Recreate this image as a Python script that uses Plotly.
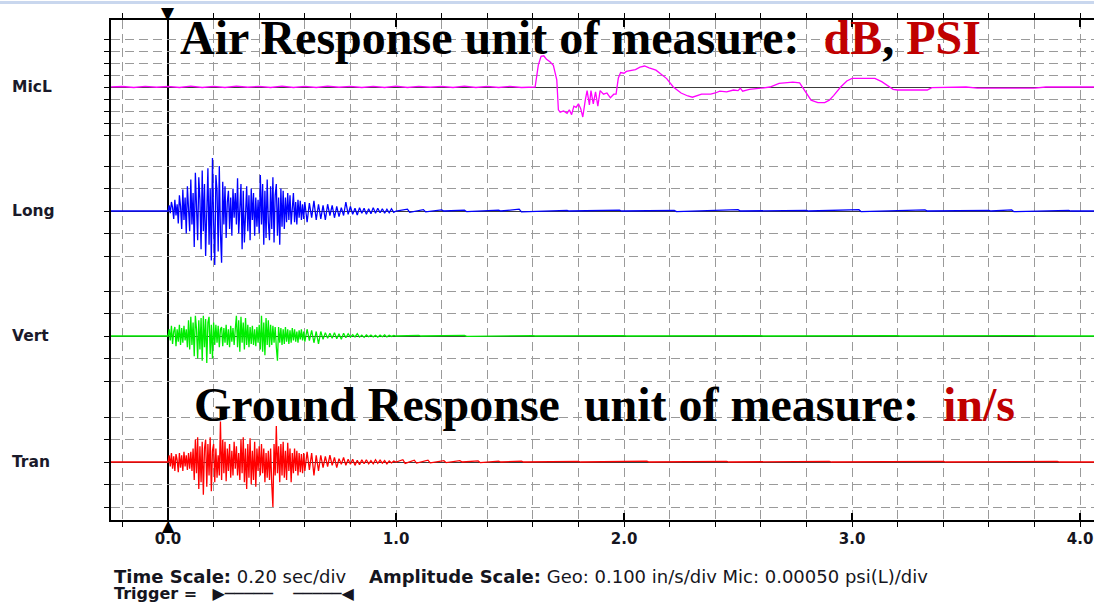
import plotly.graph_objects as go

# ---------------- data ----------------
time_tick_vals = [0, 1, 2, 3, 4]
time_tick_text = ["0.0", "1.0", "2.0", "3.0", "4.0"]
channel_names = ["MicL", "Long", "Vert", "Tran"]
channel_colors = ["#ff00ff", "#0000ff", "#00ee00", "#ff0000"]

geo_div = 0.100      # in/s per division
mic_div = 0.00050    # psi per division

# Mic (psi) -- time (s) and value
mic_t = [-0.26, -0.2, -0.15, -0.1, -0.05, 0.0, 0.05, 0.1, 0.15, 0.2, 0.25, 0.3, 0.35, 0.4,
         0.45, 0.5, 0.55, 0.6, 0.65, 0.7, 0.75, 0.8, 0.85, 0.9, 0.95, 1.0, 1.05, 1.1, 1.15,
         1.2, 1.25, 1.3, 1.35, 1.4, 1.45, 1.5, 1.55, 1.6,
         1.61, 1.624, 1.636, 1.648, 1.66, 1.675, 1.69, 1.705, 1.712, 1.72, 1.735, 1.75, 1.76,
         1.77, 1.78, 1.79, 1.80, 1.81, 1.819, 1.83, 1.838, 1.848, 1.855, 1.865, 1.875, 1.885,
         1.895, 1.91, 1.925, 1.94, 1.955, 1.965, 1.975, 1.985, 2.0, 2.01, 2.03, 2.05, 2.07,
         2.09, 2.11, 2.14, 2.16, 2.187, 2.216, 2.25, 2.28, 2.30, 2.34, 2.38, 2.40, 2.42, 2.45,
         2.48, 2.50, 2.51, 2.52, 2.55, 2.60, 2.64, 2.68, 2.72, 2.74, 2.77, 2.80, 2.82, 2.85,
         2.88, 2.90, 2.92, 2.95, 2.977, 3.0, 3.1, 3.13, 3.16, 3.18, 3.2, 3.33, 3.35, 3.5, 3.55,
         3.6, 3.8, 3.85, 4.07]
mic_psi = [0.0, 0.00002, -0.00002, 0.00003, -0.00001, 0.00003, -0.00002, 0.00004, -0.00002,
           0.00003, -0.00002, 0.00004, -0.00001, 0.00003, -0.00002, 0.00004, -0.00002, 0.00003,
           -0.00002, 0.00004, -0.00001, 0.00003, -0.00002, 0.00003, -0.00002, 0.00004, -0.00002,
           0.00003, -0.00001, 0.00003, -0.00002, 0.00004, -0.00002, 0.00003, -0.00002, 0.00003,
           -0.00002, 0.0,
           0.0, 0.000915, 0.001275, 0.0013, 0.00115, 0.00105, 0.0009, 0.0003, -0.00095, -0.00105,
           -0.001, -0.0011, -0.00095, -0.00115, -0.0008, -0.00085, -0.0007, -0.0009, -0.00125,
           -0.00055, -0.00015, -0.00075, -0.00015, -0.0007, -0.0002, -0.0008, -0.00015, -0.0003,
           -0.00025, -0.00045, -0.0003, -0.0003, 0.000375, 0.0006, 0.000575, 0.00065, 0.0007,
           0.000725, 0.000825, 0.000875, 0.0008, 0.0007, 0.00055, 0.00035, 0.0, -0.00025,
           -0.000375, -0.000425, -0.0003, -0.0003, -0.00025, -0.000175, -0.0002, -0.000125,
           -0.00015, -0.00005, -0.000175, -0.0001, -0.00005, 0.0, 0.00015, 0.000175, 0.0002,
           0.000175, -0.000275, -0.00055, -0.00065, -0.00065, -0.00055, -0.00035, 0.0, 0.00025,
           0.00036, 0.00036, 0.000225, 0.00005, -0.0001, -0.000125, -0.000125, -0.000025, 0.0,
           -0.00005, -0.00005, -0.00005, 0.0, 0.0]

# Geophone bursts (in/s): segment A sampled every 0.005 s from the trigger (0.000-0.595 s),
# segment B sampled every 0.01 s (0.60-0.99 s)
dt_a = 0.005
dt_b = 0.01
long_a = [0.000, 0.025, -0.010, 0.040, 0.015, -0.035, 0.050, -0.020, 0.030, -0.055,
          0.070, 0.020, -0.080, 0.095, -0.040, 0.060, -0.100, 0.110, 0.030, -0.090,
          0.140, -0.060, 0.080, -0.160, 0.170, -0.020, -0.130, 0.150, 0.050, -0.170,
          0.180, -0.090, 0.120, -0.200, 0.060, 0.190, -0.150, 0.100, -0.220, 0.235,
          -0.050, -0.240, 0.160, 0.090, -0.180, 0.200, -0.100, -0.230, 0.130, -0.060,
          0.110, -0.120, 0.040, 0.090, -0.080, 0.060, -0.110, 0.100, -0.030, 0.080,
          -0.060, 0.145, -0.100, 0.050, 0.120, -0.170, 0.090, -0.140, 0.030, 0.110,
          -0.090, 0.070, -0.130, 0.100, -0.040, 0.080, -0.110, 0.060, -0.070, 0.050,
          -0.100, 0.160, -0.060, 0.120, -0.150, 0.090, -0.120, 0.140, -0.050, -0.130,
          0.110, -0.080, 0.150, -0.140, 0.070, 0.120, -0.110, 0.060, -0.150, 0.100,
          -0.070, 0.090, -0.080, 0.060, -0.050, 0.080, -0.040, 0.070, -0.060, 0.030,
          0.080, -0.050, 0.040, -0.060, 0.050, -0.030, 0.045, -0.040, 0.030, -0.035]
long_b = [0.040, -0.050, 0.035, -0.030, 0.045, -0.040, 0.030, -0.035, 0.025, -0.040,
          0.030, -0.020, 0.025, -0.030, 0.020, -0.025, 0.015, -0.020, 0.040, -0.015,
          0.020, -0.015, 0.012, -0.018, 0.015, -0.010, 0.012, -0.015, 0.010, -0.012,
          0.015, -0.010, 0.012, -0.008, 0.010, -0.010, 0.008, -0.008, 0.010, -0.006]
vert_a = [0.000, 0.030, -0.020, 0.045, -0.035, 0.020, 0.040, -0.045, 0.030, -0.025,
          0.050, -0.040, 0.035, -0.030, 0.045, -0.020, 0.030, -0.050, 0.070, -0.060,
          0.085, -0.040, 0.060, -0.090, 0.090, 0.030, -0.100, 0.070, -0.060, 0.080,
          -0.110, 0.090, -0.050, 0.075, -0.120, 0.060, 0.085, -0.080, 0.050, -0.100,
          0.060, -0.040, 0.050, -0.030, 0.045, -0.050, 0.030, 0.040, -0.045, 0.035,
          -0.030, 0.050, -0.040, 0.030, -0.050, 0.045, -0.025, 0.035, -0.040, 0.030,
          0.090, -0.050, 0.070, -0.070, 0.085, -0.030, 0.060, -0.060, 0.080, -0.040,
          0.050, -0.050, 0.040, -0.035, 0.045, -0.040, 0.030, -0.045, 0.040, -0.030,
          0.050, -0.060, 0.090, -0.070, 0.060, -0.085, 0.080, -0.040, 0.070, -0.050,
          0.050, -0.040, 0.045, -0.030, 0.040, -0.050, -0.110, 0.040, -0.030, 0.035,
          -0.040, 0.030, -0.035, 0.040, -0.025, 0.030, -0.035, 0.025, -0.030, 0.035,
          -0.020, 0.030, -0.025, 0.020, -0.030, 0.025, -0.015, 0.030, -0.020, 0.020]
vert_b = [-0.025, 0.030, -0.020, 0.025, -0.030, 0.020, -0.035, 0.020, -0.015, 0.015,
          -0.010, 0.012, -0.010, 0.015, -0.012, 0.010, -0.015, 0.012, -0.008, 0.010,
          -0.005, 0.006, -0.004, 0.010, -0.005, 0.004, -0.006, 0.005, -0.003, 0.004,
          -0.004, 0.003, -0.005, 0.004, -0.003, 0.005, -0.004, 0.003, -0.002, 0.003]
tran_a = [0.000, 0.030, -0.020, 0.040, -0.030, 0.025, -0.040, 0.035, 0.010, -0.045,
          0.040, -0.025, 0.030, -0.040, 0.045, -0.020, 0.030, -0.035, 0.040, -0.030,
          0.045, -0.040, 0.060, -0.080, 0.100, -0.050, 0.110, -0.120, 0.070, -0.090,
          0.090, -0.145, 0.060, 0.100, -0.110, 0.080, -0.060, 0.110, -0.130, 0.050,
          0.080, -0.090, 0.060, -0.070, 0.030, -0.060, 0.180, -0.080, 0.100, -0.050,
          0.090, -0.085, 0.060, -0.040, 0.080, -0.070, 0.050, -0.060, 0.090, -0.030,
          0.070, -0.060, 0.040, -0.080, 0.100, -0.050, 0.110, -0.090, 0.060, -0.120,
          0.080, -0.070, 0.105, -0.100, 0.050, -0.080, 0.090, -0.110, 0.060, -0.040,
          0.070, -0.060, 0.080, -0.050, 0.060, -0.090, 0.040, -0.070, 0.050, -0.080,
          0.060, -0.100, -0.200, 0.080, -0.060, 0.160, -0.050, 0.070, -0.090, 0.080,
          -0.060, 0.090, -0.070, 0.050, -0.080, 0.085, -0.040, 0.060, -0.090, 0.040,
          -0.050, 0.060, -0.040, 0.050, -0.060, 0.040, -0.045, 0.035, -0.050, 0.040]
tran_b = [-0.040, 0.045, -0.035, 0.040, -0.060, 0.030, -0.040, 0.030, -0.025, 0.025,
          -0.020, 0.030, -0.015, 0.020, -0.025, 0.015, -0.010, 0.020, -0.015, 0.012,
          -0.010, 0.012, -0.015, 0.008, -0.012, 0.010, -0.008, 0.010, -0.008, 0.006,
          -0.008, 0.010, -0.006, 0.008, -0.005, 0.006, -0.008, 0.005, -0.004, 0.004]

# Quiet tails after 1 s (time s, value in/s)
long_tail_t = [1.00, 1.05, 1.06, 1.12, 1.13, 1.20, 1.21, 1.30, 1.31, 1.45, 1.46, 1.54, 1.55,
               1.75, 1.76, 1.98, 1.99, 2.22, 2.23, 2.50, 2.51, 2.80, 2.81, 3.03, 3.04, 3.32,
               3.33, 3.60, 3.61, 3.70, 3.71, 3.95, 3.96, 4.07]
long_tail_v = [0.0, 0.008, -0.006, 0.006, -0.004, 0.005, 0.0, 0.004, -0.003, 0.004, 0.0, 0.008,
               -0.004, 0.003, 0.0, 0.004, 0.0, 0.003, -0.003, 0.006, 0.0, 0.003, 0.0, 0.006,
               -0.003, 0.005, 0.0, 0.003, 0.0, 0.005, -0.003, 0.003, 0.0, 0.0]
vert_tail_t = [1.00, 1.10, 1.11, 1.30, 1.31, 1.60, 1.61, 2.00, 2.01, 2.60, 2.61, 3.20, 3.21,
               3.80, 3.81, 4.07]
vert_tail_v = [0.0, 0.003, 0.0, 0.003, -0.002, 0.002, 0.0, 0.002, 0.0, 0.002, 0.0, 0.002, 0.0,
               0.002, 0.0, 0.0]
tran_tail_t = [1.00, 1.03, 1.04, 1.08, 1.09, 1.14, 1.15, 1.21, 1.22, 1.28, 1.29, 1.36, 1.37,
               1.45, 1.46, 1.55, 1.56, 1.80, 1.81, 2.10, 2.11, 2.45, 2.46, 2.90, 2.91, 3.40,
               3.41, 3.90, 3.91, 4.07]
tran_tail_v = [0.0, 0.010, -0.006, 0.008, -0.005, 0.008, -0.004, 0.006, -0.003, 0.006, 0.0,
               0.005, -0.003, 0.004, 0.0, 0.004, 0.0, 0.003, 0.0, 0.004, 0.0, 0.003, 0.0,
               0.003, 0.0, 0.003, 0.0, 0.003, 0.0, 0.0]
pre_trigger_t = [-0.26, -0.01]
pre_trigger_v = [0.0, 0.0]

# ---------------- figure ----------------
W, H = 1094, 602
grid_color = "#9a9a9a"
grid_dash = "9px,5px"
x_range = [-0.25, 4.061]

fig = go.Figure()


def geo_series(seg_a, seg_b, tail_t, tail_v):
    t_a = [round(i * dt_a, 4) for i in range(len(seg_a))]
    start_b = len(seg_a) * dt_a
    t_b = [round(start_b + i * dt_b, 4) for i in range(len(seg_b))]
    return (pre_trigger_t + t_a + t_b + tail_t,
            pre_trigger_v + seg_a + seg_b + tail_v)


series = [
    (mic_t, mic_psi),
    geo_series(long_a, long_b, long_tail_t, long_tail_v),
    geo_series(vert_a, vert_b, vert_tail_t, vert_tail_v),
    geo_series(tran_a, tran_b, tran_tail_t, tran_tail_v),
]

# frame subplot needs a (invisible) trace so its axes render
fig.add_trace(go.Scatter(x=[x_range[0]], y=[0.5], mode="markers",
                         marker=dict(size=1, color="rgba(0,0,0,0)"),
                         hoverinfo="skip", showlegend=False))

for i, ((tx, vy), col) in enumerate(zip(series, channel_colors)):
    n = i + 2
    fig.add_trace(go.Scatter(x=tx, y=vy, mode="lines", xaxis=f"x{n}", yaxis=f"y{n}",
                             line=dict(color=col, width=1.3), showlegend=False))

# channel axis geometry (paper fractions)
chan_layout = [
    # domain, range, tickvals
    ([0.7628, 0.9692], [-4.3 * mic_div, 4.3 * mic_div], [k * mic_div for k in range(-4, 5)]),
    ([0.4965, 0.7395], [-2.7 * geo_div, 2.7 * geo_div], [k * geo_div for k in range(-2, 3)]),
    ([0.2465, 0.4895], [-2.7 * geo_div, 2.7 * geo_div], [k * geo_div for k in range(-2, 3)]),
    ([0.0035, 0.2285], [-2.5 * geo_div, 2.5 * geo_div], [k * geo_div for k in range(-2, 3)]),
]

layout = dict(
    width=W, height=H,
    margin=dict(l=111, r=0, t=20, b=82),
    paper_bgcolor="white", plot_bgcolor="rgba(0,0,0,0)",
    showlegend=False,
    xaxis=dict(range=x_range, domain=[0, 1], anchor="y",
               tickvals=time_tick_vals, ticktext=time_tick_text,
               ticks="inside", ticklen=7, tickwidth=1.5, tickcolor="black",
               showline=True, linecolor="black", linewidth=1.5, mirror="allticks",
               showgrid=True, gridcolor=grid_color, griddash=grid_dash, gridwidth=1.3,
               zeroline=True, zerolinecolor="black", zerolinewidth=1.8,
               tickfont=dict(family="DejaVu Sans", size=15, color="#151520", weight="bold"),
               ticklabelstandoff=4,
               minor=dict(dtick=0.2, tick0=0, ticks="outside", ticklen=5, tickwidth=1.3,
                          tickcolor="black", showgrid=True, gridcolor=grid_color,
                          griddash=grid_dash, gridwidth=1.3)),
    yaxis=dict(range=[0, 1], domain=[0, 1], anchor="x", showgrid=False, zeroline=False,
               showticklabels=False, ticks="", showline=True, linecolor="black",
               linewidth=1.5),
)

annotations = []
for i, (dom, rng, tv) in enumerate(chan_layout):
    n = i + 2
    layout[f"xaxis{n}"] = dict(range=x_range, domain=[0, 1], anchor=f"y{n}", matches="x",
                               visible=False)
    layout[f"yaxis{n}"] = dict(domain=dom, range=rng, anchor=f"x{n}", tickvals=tv,
                               showticklabels=False, ticks="outside", ticklen=6,
                               tickwidth=1.3, tickcolor="black",
                               showgrid=True, gridcolor=grid_color, griddash=grid_dash,
                               gridwidth=1.3, zeroline=True, zerolinecolor="#3c3c3c",
                               zerolinewidth=1.2, showline=False)
    annotations.append(dict(text=f"<b>{channel_names[i]}</b>", xref="paper", x=-0.1027,
                            xanchor="left", yref=f"y{n}", y=0, yanchor="middle",
                            showarrow=False,
                            font=dict(family="DejaVu Sans", size=15.5, color="#1a1a2a")))

# trigger markers at t = 0
annotations.append(dict(text="▼", xref="x", x=0, yref="paper", y=1.0, yanchor="bottom",
                        yshift=-5, showarrow=False,
                        font=dict(family="DejaVu Sans", size=17, color="black")))
annotations.append(dict(text="▲", xref="x", x=0, yref="paper", y=0.0, yanchor="top",
                        yshift=6, showarrow=False,
                        font=dict(family="DejaVu Sans", size=16, color="black")))

red = "#c00000"
annotations.append(dict(
    text=("<b>Air Response unit of measure:&nbsp; "
          f"<span style='color:{red}'>dB</span>, <span style='color:{red}'>PSI</span></b>"),
    xref="paper", yref="paper", x=0.0682, y=0.966, xanchor="left", yanchor="middle",
    showarrow=False, font=dict(family="Liberation Serif", size=48, color="black")))
annotations.append(dict(
    text=("<b>Ground Response&nbsp; unit of measure:&nbsp; "
          f"<span style='color:{red}'>in/s</span></b>"),
    xref="paper", yref="paper", x=0.0824, y=0.232, xanchor="left", yanchor="middle",
    showarrow=False, font=dict(family="Liberation Serif", size=48, color="black")))

annotations.append(dict(
    text=("<b>Time Scale:</b> 0.20 sec/div&nbsp;&nbsp;&nbsp; <b>Amplitude Scale:</b> "
          "Geo: 0.100 in/s/div Mic: 0.00050 psi(L)/div"),
    xref="paper", yref="paper", x=0.001, y=-0.112, xanchor="left", yanchor="middle",
    showarrow=False, font=dict(family="DejaVu Sans", size=18, color="#151520")))
annotations.append(dict(
    text="<b>Trigger =</b>&nbsp;&nbsp; ▶─────&nbsp;&nbsp;&nbsp;&nbsp;─────◀",
    xref="paper", yref="paper", x=0.001, y=-0.147, xanchor="left", yanchor="middle",
    showarrow=False, font=dict(family="DejaVu Sans", size=16, color="#151520")))

layout["annotations"] = annotations
layout["shapes"] = [dict(type="line", xref="paper", yref="paper", x0=-0.115, x1=1.0,
                         y0=1.035, y1=1.035, line=dict(color="#c9d7ee", width=3))]

fig.update_layout(**layout)
fig.write_html("out.html", config={"displayModeBar": False},
               post_script="document.body.style.margin='0px';"
                           "document.body.style.overflow='hidden';")
